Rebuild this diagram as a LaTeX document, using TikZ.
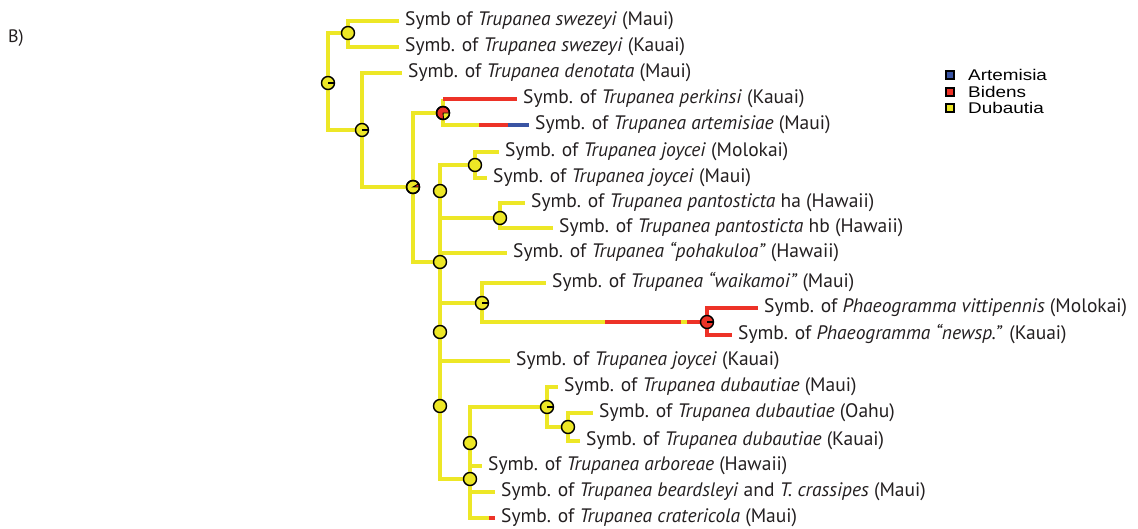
\documentclass[tikz,border=0pt]{standalone}
\usepackage{fontspec}
\setmainfont{PT Sans}
\newfontfamily\legfont{Liberation Sans}
\definecolor{yel}{RGB}{237,231,38}
\definecolor{rd}{RGB}{237,50,39}
\definecolor{bl}{RGB}{58,84,163}
\definecolor{txt}{RGB}{35,31,32}
\pgfdeclarelayer{bg}
\pgfsetlayers{bg,main}
\tikzset{
  br/.style={line width=4.5pt, draw=yel},
  brR/.style={line width=4.5pt, draw=rd},
  brB/.style={line width=4.5pt, draw=bl},
  nd/.style={circle, minimum size=13pt, inner sep=0pt, draw=black, line width=1.4pt, fill=yel},
  ndR/.style={nd, fill=rd},
  lab/.style={anchor=base west, inner sep=0pt, text=txt, font=\fontsize{19.5}{22}\selectfont},
  leg/.style={anchor=base west, inner sep=0pt, text=black, font=\legfont\fontsize{15.5}{17}\selectfont},
  sq/.style={draw=black, line width=1.2pt, minimum size=8pt, inner sep=0pt},
  tick/.style={line width=2.2pt, draw=black}
}
\begin{document}
\begin{tikzpicture}[x=1pt,y=-1pt]
\useasboundingbox (0,0) rectangle (1138,529);
\node[lab, font=\fontsize{18}{20}\selectfont] (B) at (8,43) {B)};
% internal nodes
\node[nd] (n1) at (328,83) {};
\node[nd] (n2) at (348,33) {};
\node[nd] (n3) at (362,130) {};
\node[nd] (n4) at (413,187) {};
\node[ndR] (n5) at (443,113) {};
\node[nd] (n6) at (440,191) {};
\node[nd] (n7) at (475,165) {};
\node[nd] (n8) at (500,218) {};
\node[nd] (n9) at (440,262) {};
\node[nd] (n10) at (482,303) {};
\node[ndR] (n11) at (707,322) {};
\node[nd] (n12) at (440,332) {};
\node[nd] (n13) at (440,406) {};
\node[nd] (n14) at (547,407) {};
\node[nd] (n15) at (568,427) {};
\node[nd] (n16) at (470,443) {};
\node[nd] (n17) at (470,479) {};
% pie slices
\draw[tick] (n1.center) -- (n1.east);
\draw[tick] (n3.center) -- (n3.east);
\draw[tick] (n10.center) -- (n10.east);
\draw[tick] (n14.center) -- (n14.east);
\draw[tick] (n11.center) -- (n11.east);
\filldraw[fill=rd, draw=black, line width=0.9pt] (n4.center) -- ++(6.5,0) arc[start angle=0, end angle=-30, radius=6.5] -- cycle;
\filldraw[fill=yel, draw=black, line width=0.9pt] (n5.center) -- ++(6.5,0) arc[start angle=0, end angle=85, radius=6.5] -- cycle;
\draw[black, line width=1.4pt] (n4) circle[radius=6.5];
\draw[black, line width=1.4pt] (n5) circle[radius=6.5];
% tip coordinates
\coordinate (t1) at (399,21);
\coordinate (t2) at (399,47);
\coordinate (t3) at (402,73);
\coordinate (t4) at (517,99);
\coordinate (t5) at (529,125);
\coordinate (t6) at (499,152);
\coordinate (t7) at (487,178);
\coordinate (t8) at (525,203);
\coordinate (t9) at (553,228);
\coordinate (t10) at (507,253);
\coordinate (t11) at (546,283);
\coordinate (t12) at (758,308);
\coordinate (t13) at (732,335);
\coordinate (t14) at (510,361);
\coordinate (t15) at (558,387);
\coordinate (t16) at (593,413);
\coordinate (t17) at (580,441);
\coordinate (t18) at (482,466);
\coordinate (t19) at (495,492);
\coordinate (t20) at (495,518);
\coordinate (a1) at (479,125);
\coordinate (a2) at (508,125);
\coordinate (m1) at (605,322);
\coordinate (m2) at (681,322);
\coordinate (m3) at (687,322);
\coordinate (c1) at (489,518);
\begin{pgfonlayer}{bg}
\draw[br] (n1.center) |- (n2.center);
\draw[br] (n1.center) |- (n3.center);
\draw[br] (n2.center) |- (t1);
\draw[br] (n2.center) |- (t2);
\draw[br] (n3.center) |- (t3);
\draw[br] (n3.center) |- (n4.center);
\draw[br] (n4.center) |- (n5.center);
\draw[br] (n4.center) |- (n9.center);
\draw[br] (n5.center) -- (n5.center |- t4);
\draw[brR] (n5.center |- t4) -- (t4);
\draw[br] (n5.center) |- (a1);
\draw[brR] (a1) -- (a2);
\draw[brB] (a2) -- (t5);
\draw[br] (n9.center) |- (n6.center);
\draw[br] (n9.center) |- (t10);
\draw[br] (n6.center) |- (n7.center);
\draw[br] (n6.center) |- (n8.center);
\draw[br] (n7.center) |- (t6);
\draw[br] (n7.center) |- (t7);
\draw[br] (n8.center) |- (t8);
\draw[br] (n8.center) |- (t9);
\draw[br] (n9.center) -- (n12.center);
\draw[br] (n12.center) |- (n10.center);
\draw[br] (n12.center) -- (n13.center);
\draw[br] (n10.center) |- (t11);
\draw[br] (n10.center) |- (m1);
\draw[brR] (m1) -- (m2);
\draw[br] (m2) -- (m3);
\draw[brR] (m3) -- (n11.center);
\draw[brR] (n11.center) |- (t12);
\draw[brR] (n11.center) |- (t13);
\draw[br] (n13.center) |- (t14);
\draw[br] (n13.center) |- (n17.center);
\draw[br] (n17.center) |- (n16.center);
\draw[br] (n17.center) |- (t19);
\draw[br] (n17.center) |- (c1);
\draw[brR] (c1) -- (t20);
\draw[br] (n16.center) |- (n14.center);
\draw[br] (n16.center) |- (t18);
\draw[br] (n14.center) |- (t15);
\draw[br] (n14.center) |- (n15.center);
\draw[br] (n15.center) |- (t16);
\draw[br] (n15.center) |- (t17);
\end{pgfonlayer}
% labels
\node[lab] (l1) at ([xshift=6pt,yshift=-4.5pt]t1) {Symb of \textit{Trupanea swezeyi} (Maui)};
\node[lab] (l2) at ([xshift=6pt,yshift=-4.5pt]t2) {Symb. of \textit{Trupanea swezeyi} (Kauai)};
\node[lab] (l3) at ([xshift=6pt,yshift=-4.5pt]t3) {Symb. of \textit{Trupanea denotata} (Maui)};
\node[lab] (l4) at ([xshift=6pt,yshift=-4.5pt]t4) {Symb. of \textit{Trupanea perkinsi} (Kauai)};
\node[lab] (l5) at ([xshift=6pt,yshift=-4.5pt]t5) {Symb. of \textit{Trupanea artemisiae} (Maui)};
\node[lab] (l6) at ([xshift=6pt,yshift=-4.5pt]t6) {Symb. of \textit{Trupanea joycei} (Molokai)};
\node[lab] (l7) at ([xshift=6pt,yshift=-4.5pt]t7) {Symb. of \textit{Trupanea joycei} (Maui)};
\node[lab] (l8) at ([xshift=6pt,yshift=-4.5pt]t8) {Symb. of \textit{Trupanea pantosticta} ha (Hawaii)};
\node[lab] (l9) at ([xshift=6pt,yshift=-4.5pt]t9) {Symb. of \textit{Trupanea pantosticta} hb (Hawaii)};
\node[lab] (l10) at ([xshift=6pt,yshift=-4.5pt]t10) {Symb. of \textit{Trupanea “pohakuloa”} (Hawaii)};
\node[lab] (l11) at ([xshift=6pt,yshift=-4.5pt]t11) {Symb. of \textit{Trupanea “waikamoi”} (Maui)};
\node[lab] (l12) at ([xshift=6pt,yshift=-4.5pt]t12) {Symb. of \textit{Phaeogramma vittipennis} (Molokai)};
\node[lab] (l13) at ([xshift=6pt,yshift=-4.5pt]t13) {Symb. of \textit{Phaeogramma “newsp.”} (Kauai)};
\node[lab] (l14) at ([xshift=6pt,yshift=-4.5pt]t14) {Symb. of \textit{Trupanea joycei} (Kauai)};
\node[lab] (l15) at ([xshift=6pt,yshift=-4.5pt]t15) {Symb. of \textit{Trupanea dubautiae} (Maui)};
\node[lab] (l16) at ([xshift=6pt,yshift=-4.5pt]t16) {Symb. of \textit{Trupanea dubautiae} (Oahu)};
\node[lab] (l17) at ([xshift=6pt,yshift=-4.5pt]t17) {Symb. of \textit{Trupanea dubautiae} (Kauai)};
\node[lab] (l18) at ([xshift=6pt,yshift=-4.5pt]t18) {Symb. of \textit{Trupanea arboreae} (Hawaii)};
\node[lab] (l19) at ([xshift=6pt,yshift=-4.5pt]t19) {Symb. of \textit{Trupanea beardsleyi} and \textit{T. crassipes} (Maui)};
\node[lab] (l20) at ([xshift=6pt,yshift=-4.5pt]t20) {Symb. of \textit{Trupanea cratericola} (Maui)};
% legend
\node[sq, fill=bl] (s1) at (950,75) {};
\node[sq, fill=rd] (s2) at (950,92) {};
\node[sq, fill=yel] (s3) at (950,108) {};
\node[leg] (g1) at (968,81) {\scalebox{1.22}[1]{Artemisia}};
\node[leg] (g2) at (968,97.5) {\scalebox{1.22}[1]{Bidens}};
\node[leg] (g3) at (968,113.5) {\scalebox{1.22}[1]{Dubautia}};
\end{tikzpicture}
\end{document}
